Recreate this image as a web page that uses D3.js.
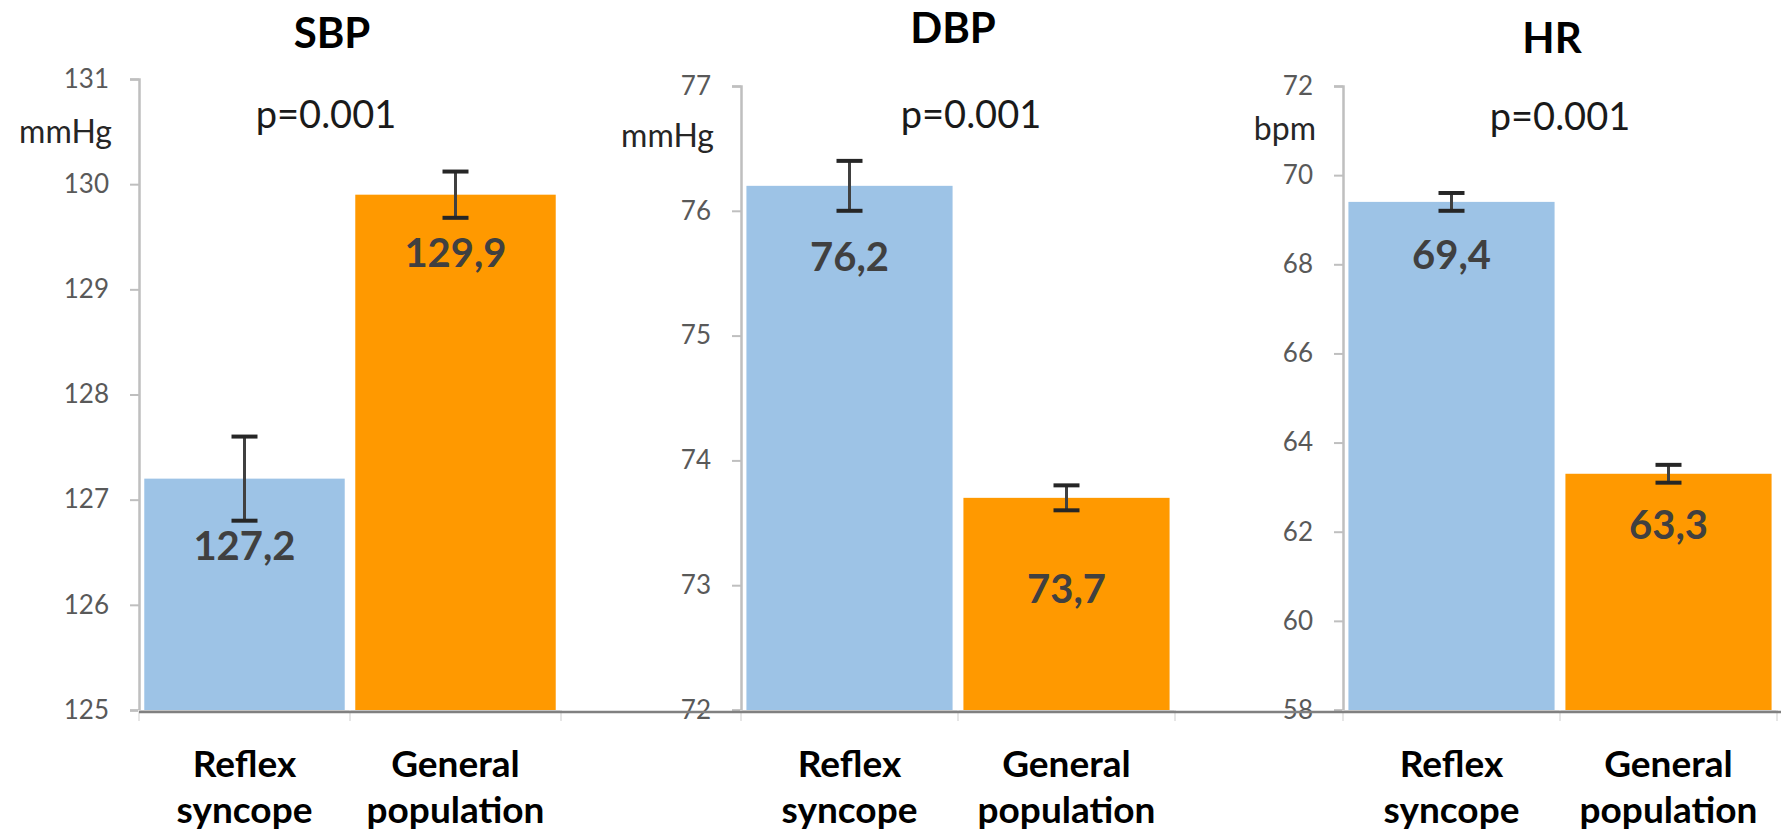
<!DOCTYPE html>
<html>
<head>
<meta charset="utf-8">
<script src="https://cdn.jsdelivr.net/npm/d3@7"></script>
<style>
  body { margin: 0; background: #fff; }
  svg { display: block; }
  text { font-family: Lato, "Liberation Sans", sans-serif; }
</style>
</head>
<body>
<svg id="chart" width="1781" height="833"></svg>
<script>
// data
const panels = ["SBP", "DBP", "HR"];
const units = ["mmHg", "mmHg", "bpm"];
const categories = ["Reflex syncope", "General population"];
const syncopeMeans = [127.2, 76.2, 69.4];
const populationMeans = [129.9, 73.7, 63.3];
const syncopeErr = [0.4, 0.2, 0.2];
const populationErr = [0.22, 0.1, 0.2];
const yDomains = [[125, 131], [72, 77], [58, 72]];
const yTickSteps = [1, 1, 2];
const pLabels = ["p=0.001", "p=0.001", "p=0.001"];

// layout
const W = 1781, H = 833;
const axisX = [139, 741, 1343],
	bandW = [211, 217, 217],
	yTop = [79, 86, 86],
	yBottom = 710;
const titleX = [332, 953, 1552],
	titleY = [48, 43, 53];
const pX = [326, 971, 1560],
	pY = [128, 128, 130];
const unitY = [143, 147, 140];
// distance from bar top to value label baseline
const labelDy = [[81, 72], [85, 105], [67, 65]];
const colours = ["#9DC3E6", "#FF9900"];

const svg = d3.select("#chart");

panels.forEach((name, i) => {
	let g = svg.append("g");
	let x = d3.scaleBand()
		.domain(categories)
		.range([axisX[i], axisX[i] + 2 * bandW[i]])
		.paddingInner(0.05)
		.paddingOuter(0.025);
	let y = d3.scaleLinear()
		.domain(yDomains[i])
		.range([yBottom, yTop[i]]);

	let rows = categories.map((c, j) => ({
		cat: c,
		mean: j == 0 ? syncopeMeans[i] : populationMeans[i],
		err: j == 0 ? syncopeErr[i] : populationErr[i],
		colour: colours[j],
		dy: labelDy[i][j]
	}));

	// y axis
	let ticks = d3.range(yDomains[i][0], yDomains[i][1] + 0.001, yTickSteps[i]);
	let ax = g.append("g")
		.attr("transform", `translate(${axisX[i]},0)`)
		.call(d3.axisLeft(y).tickValues(ticks).tickFormat(d3.format("d"))
			.tickSizeOuter(0).tickSize(9).tickPadding(21));
	ax.select(".domain").attr("stroke", "#BFBFBF").attr("stroke-width", 2.5);
	ax.selectAll(".tick line").attr("stroke", "#BFBFBF").attr("stroke-width", 2);
	ax.selectAll(".tick text")
		.attr("fill", "#595959")
		.style("font-size", "26px")
		.style("font-family", "Lato, sans-serif");

	// light category axis + band ticks
	g.append("line")
		.attr("x1", axisX[i]).attr("x2", axisX[i] + 2 * bandW[i])
		.attr("y1", yBottom + 1).attr("y2", yBottom + 1)
		.attr("stroke", "#D9D9D9").attr("stroke-width", 2);
	g.selectAll(".bt")
		.data([0, 1, 2])
		.join("line")
		.attr("x1", k => axisX[i] + k * bandW[i])
		.attr("x2", k => axisX[i] + k * bandW[i])
		.attr("y1", yBottom).attr("y2", yBottom + 11)
		.attr("stroke", "#E6E6E6").attr("stroke-width", 2);

	// bars
	g.selectAll(".bar")
		.data(rows)
		.join("rect")
		.attr("x", d => x(d.cat))
		.attr("width", x.bandwidth())
		.attr("y", d => y(d.mean))
		.attr("height", d => yBottom - y(d.mean))
		.attr("fill", d => d.colour);

	// error bars
	let eb = g.selectAll(".err")
		.data(rows)
		.join("g")
		.attr("transform", d => `translate(${x(d.cat) + x.bandwidth() / 2},0)`);
	eb.append("line")
		.attr("y1", d => y(d.mean + d.err))
		.attr("y2", d => y(d.mean - d.err))
		.attr("stroke", "#404040").attr("stroke-width", 3);
	[1, -1].forEach(s => {
		eb.append("line")
			.attr("x1", -13).attr("x2", 13)
			.attr("y1", d => y(d.mean + s * d.err))
			.attr("y2", d => y(d.mean + s * d.err))
			.attr("stroke", "#262626").attr("stroke-width", 4);
	});

	// value labels
	g.selectAll(".val")
		.data(rows)
		.join("text")
		.attr("x", d => x(d.cat) + x.bandwidth() / 2)
		.attr("y", d => y(d.mean) + d.dy)
		.attr("text-anchor", "middle")
		.attr("fill", "#404040")
		.style("font-size", "40px")
		.style("font-weight", "bold")
		.text(d => d3.format(".1f")(d.mean).replace(".", ","));

	// category labels
	let cl = g.selectAll(".cat")
		.data(categories)
		.join("text")
		.attr("text-anchor", "middle")
		.attr("fill", "#000")
		.style("font-size", "37px")
		.style("font-weight", "bold");
	cl.each(function(c) {
		let parts = c.split(" ");
		parts.forEach((p, k) => {
			d3.select(this).append("tspan")
				.attr("x", x(c) + x.bandwidth() / 2)
				.attr("y", 777 + k * 46)
				.text(p);
		});
	});

	// title, p value, unit
	g.append("text")
		.attr("x", titleX[i]).attr("y", titleY[i])
		.attr("text-anchor", "middle")
		.style("font-size", "42px").style("font-weight", "bold")
		.text(name);
	g.append("text")
		.attr("x", pX[i]).attr("y", pY[i])
		.attr("text-anchor", "middle")
		.attr("fill", "#1a1a1a")
		.style("font-size", "38px")
		.text(pLabels[i]);
	g.append("text")
		.attr("x", axisX[i] - 27).attr("y", unitY[i])
		.attr("text-anchor", "end")
		.attr("fill", "#262626")
		.style("font-size", "32px")
		.text(units[i]);
});

// dark base line across all panels
svg.append("line")
	.attr("x1", axisX[0]).attr("x2", W)
	.attr("y1", yBottom + 2).attr("y2", yBottom + 2)
	.attr("stroke", "#808080").attr("stroke-width", 2.5);
</script>
</body>
</html>
